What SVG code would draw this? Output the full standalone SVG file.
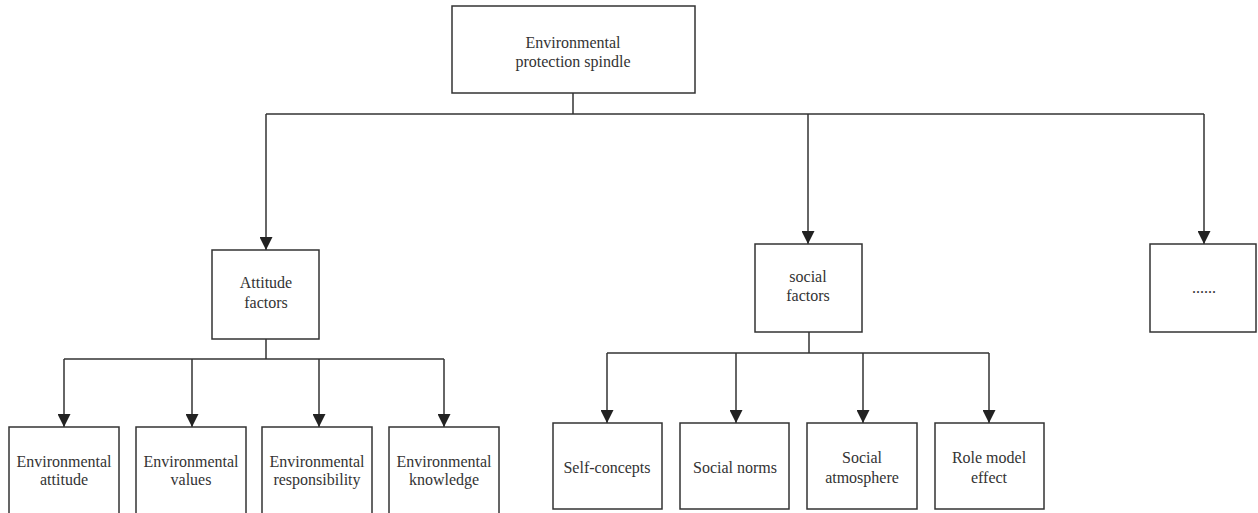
<svg xmlns="http://www.w3.org/2000/svg" width="1258" height="513" viewBox="0 0 1258 513">
<style>
.box{fill:#fff;stroke:#333;stroke-width:1.5}
.c{fill:none;stroke:#333;stroke-width:1.5}
.t{font-family:"Liberation Serif","Times New Roman","DejaVu Serif",serif;font-size:16px;fill:#333;text-anchor:middle}
</style>
<defs>
<marker id="ah" viewBox="0 0 13 13" refX="13" refY="6.5" markerWidth="13" markerHeight="13" markerUnits="userSpaceOnUse" orient="auto">
<path d="M0,0 L13,6.5 L0,13 Z" fill="#222"/>
</marker>
</defs>
<rect width="1258" height="513" fill="#fff"/>
<g id="connectors">
<path class="c" d="M573,93 V114"/>
<path class="c" d="M266,114 H1204"/>
<path class="c" d="M266,114 V250" marker-end="url(#ah)"/>
<path class="c" d="M808,114 V244" marker-end="url(#ah)"/>
<path class="c" d="M1204,114 V244" marker-end="url(#ah)"/>
<path class="c" d="M266,339 V359"/>
<path class="c" d="M64,359 H444"/>
<path class="c" d="M64,359 V427" marker-end="url(#ah)"/>
<path class="c" d="M192,359 V427" marker-end="url(#ah)"/>
<path class="c" d="M319,359 V427" marker-end="url(#ah)"/>
<path class="c" d="M444,359 V427" marker-end="url(#ah)"/>
<path class="c" d="M809,332 V353"/>
<path class="c" d="M607,353 H989"/>
<path class="c" d="M607,353 V423" marker-end="url(#ah)"/>
<path class="c" d="M736,353 V423" marker-end="url(#ah)"/>
<path class="c" d="M863,353 V423" marker-end="url(#ah)"/>
<path class="c" d="M989,353 V423" marker-end="url(#ah)"/>
</g>
<g id="root"><rect class="box" x="452" y="6" width="243" height="87"/>
<text class="t" x="573" y="48">Environmental</text><text class="t" x="573" y="67">protection spindle</text></g>
<g id="attitude"><rect class="box" x="212" y="250" width="107" height="89"/>
<text class="t" x="266" y="288">Attitude</text><text class="t" x="266" y="308">factors</text></g>
<g id="social"><rect class="box" x="755" y="244" width="107" height="88"/>
<text class="t" x="808" y="282">social</text><text class="t" x="808" y="301">factors</text></g>
<g id="more"><rect class="box" x="1150" y="244" width="106" height="88"/>
<text class="t" x="1204" y="293">......</text></g>
<g id="env-attitude"><rect class="box" x="9" y="427" width="110" height="95"/>
<text class="t" x="64" y="467">Environmental</text><text class="t" x="64" y="485">attitude</text></g>
<g id="env-values"><rect class="box" x="136" y="427" width="110" height="95"/>
<text class="t" x="191" y="467">Environmental</text><text class="t" x="191" y="485">values</text></g>
<g id="env-responsibility"><rect class="box" x="262" y="427" width="110" height="95"/>
<text class="t" x="317" y="467">Environmental</text><text class="t" x="317" y="485">responsibility</text></g>
<g id="env-knowledge"><rect class="box" x="389" y="427" width="110" height="95"/>
<text class="t" x="444" y="467">Environmental</text><text class="t" x="444" y="485">knowledge</text></g>
<g id="self-concepts"><rect class="box" x="553" y="423" width="109" height="86"/>
<text class="t" x="607" y="473">Self-concepts</text></g>
<g id="social-norms"><rect class="box" x="680" y="423" width="109" height="86"/>
<text class="t" x="735" y="473">Social norms</text></g>
<g id="social-atmosphere"><rect class="box" x="807" y="423" width="110" height="86"/>
<text class="t" x="862" y="463">Social</text><text class="t" x="862" y="483">atmosphere</text></g>
<g id="role-model"><rect class="box" x="935" y="423" width="109" height="86"/>
<text class="t" x="989" y="463">Role model</text><text class="t" x="989" y="483">effect</text></g>
</svg>
